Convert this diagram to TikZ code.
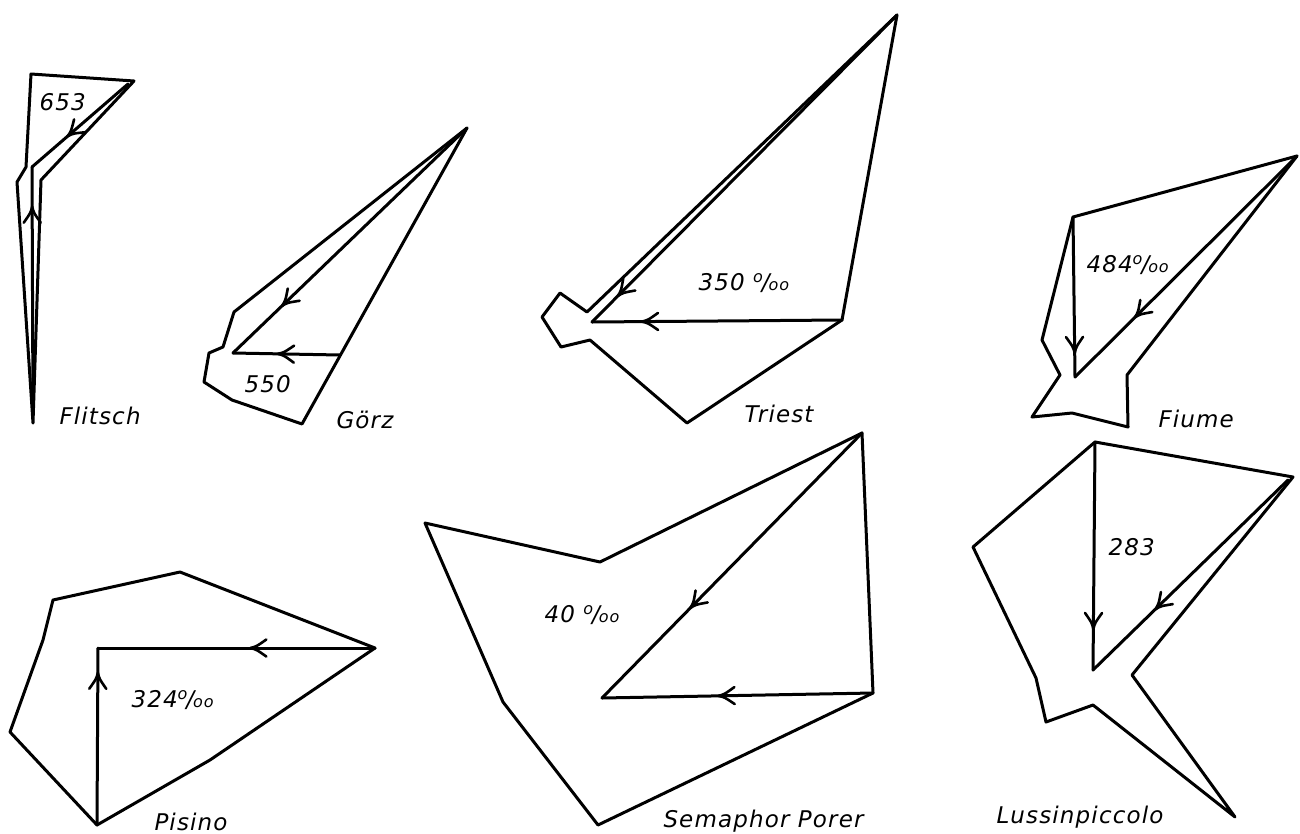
\documentclass[tikz,border=0pt]{standalone}
\usepackage{fontspec}
\setmainfont{DejaVu Sans}[LetterSpace=5]
\usetikzlibrary{decorations.markings}
\newcommand\pmille{\raisebox{8pt}{\fontsize{16}{16}\selectfont o}\kern-1pt/\kern-1pt{\fontsize{16}{16}\selectfont oo}}
\begin{document}
\begin{tikzpicture}[x=1pt,y=-1pt,line width=3pt,line join=round,line cap=round,
  outline/.style={draw},
  vec/.style={draw,postaction={decorate},decoration={markings,mark=at position #1 with {\draw[line width=2.6pt,line cap=round] (-16,8.5) .. controls (-6,1.5) .. (0,0) .. controls (-6,-1.5) .. (-16,-8.5);}}},
  lbl/.style={anchor=base west,inner sep=0pt,font=\fontsize{23}{23}\selectfont\itshape}]
\useasboundingbox (0,0) rectangle (1300,833);
% ---------- Flitsch
\coordinate (fA) at (31,74);\coordinate (fB) at (134,81);\coordinate (fC) at (41,180);
\coordinate (fT) at (33,423);\coordinate (fD) at (17,182);\coordinate (fE) at (26,167);
\coordinate (fK) at (32,167);\coordinate (fS) at (128,84);\coordinate (fL) at (33,415);
\draw[outline] (fA)--(fB)--(fC)--(fT)--(fD)--(fE)--cycle;
\draw[vec=0.63] (fS)--(fK);
\draw[vec=0.84] (fL)--(fK);
\node[lbl] (t653) at (38,110) {653};
\node[lbl] (tFl) at (58,424) {Flitsch};
% ---------- Goerz
\coordinate (gT) at (467,128);\coordinate (gA) at (234,312);\coordinate (gB) at (223,347);
\coordinate (gC) at (209,353);\coordinate (gD) at (204,382);\coordinate (gE) at (232,400);
\coordinate (gF) at (302,424);\coordinate (gM) at (340,355);\coordinate (gK) at (233,353);
\draw[outline] (gT)--(gA)--(gB)--(gC)--(gD)--(gE)--(gF)--cycle;
\draw[vec=0.79] (gT)--(gK);
\draw[vec=0.58] (gM)--(gK);
\node[lbl] (t550) at (243,392) {550};
\node[lbl] (tGo) at (335,428) {Görz};
% ---------- Triest
\coordinate (tT) at (897,15);\coordinate (tA) at (842,320);\coordinate (tB) at (687,423);
\coordinate (tC) at (590,340);\coordinate (tD) at (561,347);\coordinate (tE) at (542,317);
\coordinate (tF) at (560,293);\coordinate (tG) at (587,312);\coordinate (tK) at (592,322);
\draw[outline] (tT)--(tA)--(tB)--(tC)--(tD)--(tE)--(tF)--(tG)--cycle;
\draw[vec=0.915] (tT)--(tK);
\draw[vec=0.80] (tA)--(tK);
\node[lbl] (t350) at (697,290) {350 \pmille};
\node[lbl] (tTr) at (743,422) {Triest};
% ---------- Fiume
\coordinate (uT) at (1297,156);\coordinate (uA) at (1073,217);\coordinate (uB) at (1042,340);
\coordinate (uC) at (1060,375);\coordinate (uD) at (1032,417);\coordinate (uE) at (1072,413);
\coordinate (uF) at (1128,427);\coordinate (uG) at (1127,375);\coordinate (uK) at (1075,377);
\draw[outline] (uT)--(uA)--(uB)--(uC)--(uD)--(uE)--(uF)--(uG)--cycle;
\draw[vec=0.85] (uA)--(uK);
\draw[vec=0.73] (uT)--(uK);
\node[lbl] (t484) at (1085,272) {484\pmille};
\node[lbl] (tFi) at (1157,427) {Fiume};
% ---------- Pisino
\coordinate (pA) at (180,572);\coordinate (pB) at (53,600);\coordinate (pC) at (43,640);
\coordinate (pD) at (10,732);\coordinate (pT) at (97,825);\coordinate (pE) at (210,760);
\coordinate (pR) at (375,648);\coordinate (pK) at (98,648);
\draw[outline] (pA)--(pB)--(pC)--(pD)--(pT)--(pE)--(pR)--cycle;
\draw[vec=0.45] (pR)--(pK);
\draw[vec=0.86] (pT)--(pK);
\node[lbl] (t324) at (130,707) {324\pmille};
\node[lbl] (tPi) at (153,830) {Pisino};
% ---------- Semaphor Porer
\coordinate (sT) at (862,433);\coordinate (sA) at (600,562);\coordinate (sB) at (425,523);
\coordinate (sC) at (503,702);\coordinate (sD) at (598,825);\coordinate (sE) at (873,693);
\coordinate (sK) at (602,698);
\draw[outline] (sT)--(sA)--(sB)--(sC)--(sD)--(sE)--cycle;
\draw[vec=0.66] (sT)--(sK);
\draw[vec=0.57] (sE)--(sK);
\node[lbl] (t40) at (543,622) {40 \pmille};
\node[lbl] (tSe) at (662,827) {Semaphor Porer};
% ---------- Lussinpiccolo
\coordinate (lT) at (1095,442);\coordinate (lA) at (1293,477);\coordinate (lB) at (1132,675);
\coordinate (lC) at (1235,817);\coordinate (lD) at (1093,705);\coordinate (lE) at (1046,722);
\coordinate (lF) at (1036,678);\coordinate (lG) at (973,547);\coordinate (lK) at (1093,670);
\coordinate (lS) at (1288,480);
\draw[outline] (lT)--(lA)--(lB)--(lC)--(lD)--(lE)--(lF)--(lG)--cycle;
\draw[vec=0.82] (lT)--(lK);
\draw[vec=0.68] (lS)--(lK);
\node[lbl] (t283) at (1107,555) {283};
\node[lbl] (tLu) at (995,823) {Lussinpiccolo};
\end{tikzpicture}
\end{document}
